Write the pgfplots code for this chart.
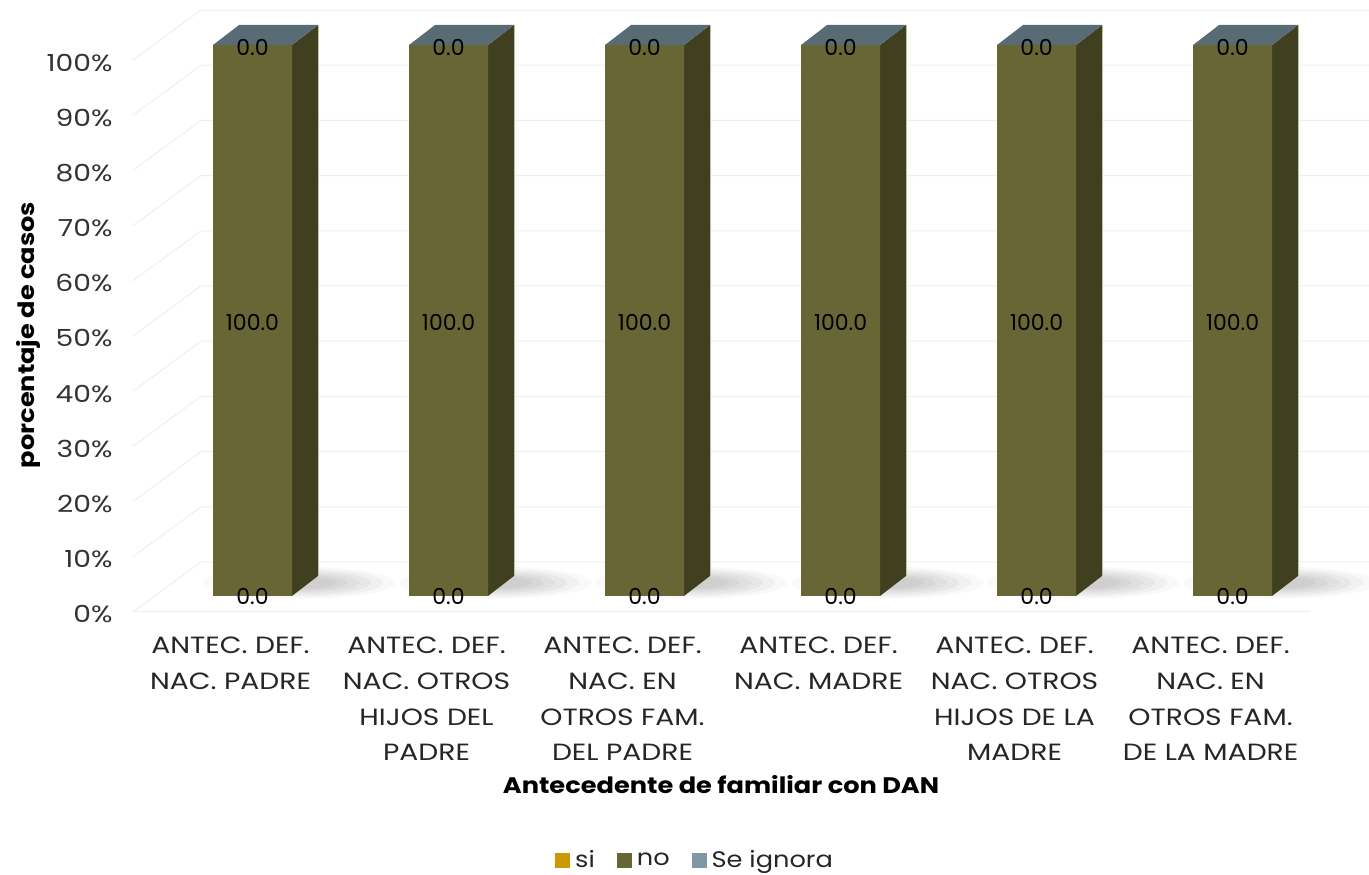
\documentclass[border=0pt]{standalone}
\usepackage{fontspec}
\setmainfont{Poppins}[FakeStretch=1.14]
\newfontfamily\wide{Poppins}[FakeStretch=1.2]
\newfontfamily\plain{Poppins}
\usepackage{pgfplots}
\usepackage{pgfplotstable}
\pgfplotsset{compat=1.18}

\definecolor{cSi}{RGB}{204,153,0}
\definecolor{cNo}{RGB}{104,102,52}
\definecolor{cNoSide}{RGB}{64,63,32}
\definecolor{cTop}{RGB}{88,108,118}
\definecolor{cIgn}{RGB}{128,152,165}
\definecolor{cGrid}{RGB}{238,238,238}
\definecolor{cEdge}{RGB}{190,190,160}

% valores en porcentaje
\pgfplotstableread{
x si no ign
0 0 100 0
1 0 100 0
2 0 100 0
3 0 100 0
4 0 100 0
5 0 100 0
}\datos

\pgfplotsset{base/.style={
    scale only axis,
    width=1177pt, height=578.5pt,
    xmin=-0.6097, xmax=5.395,
    ymin=-5, ymax=100,
    clip=false}}

\begin{document}
\begin{tikzpicture}
\useasboundingbox (-133pt,-251.5pt) rectangle (1236pt,623.5pt);
% fondo: paredes, piso, sombras, caras 3D
\begin{axis}[base, hide axis]
\pgfplotsinvokeforeach{0,...,10}{
  \draw[cGrid, line width=1pt] (axis cs:-0.6097,{-2.904+10.018*#1}) -- (axis cs:-0.2628,{6.17+10.018*#1}) -- (axis cs:5.696,{6.17+10.018*#1});
}
\draw[cGrid, line width=1pt] (axis cs:-0.6097,-2.904) -- (axis cs:5.395,-2.904);
\pgfplotsinvokeforeach{0,...,5}{
  \fill[black, opacity=0.025] (axis cs:#1+0.24,2.4) ellipse [x radius=96pt, y radius=16pt];
  \fill[black, opacity=0.03] (axis cs:#1+0.24,2.4) ellipse [x radius=84pt, y radius=14pt];
  \fill[black, opacity=0.035] (axis cs:#1+0.24,2.4) ellipse [x radius=72pt, y radius=12pt];
  \fill[black, opacity=0.035] (axis cs:#1+0.24,2.4) ellipse [x radius=60pt, y radius=10pt];
  \fill[black, opacity=0.04] (axis cs:#1+0.24,2.4) ellipse [x radius=48pt, y radius=8pt];
  \fill[black, opacity=0.04] (axis cs:#1+0.24,2.4) ellipse [x radius=36pt, y radius=6pt];
  \fill[cNoSide] (axis cs:#1+0.2015,0) -- (axis cs:#1+0.3342,3.63) -- (axis cs:#1+0.3342,103.63) -- (axis cs:#1+0.2015,100) -- cycle;
  \draw[cEdge, line width=0.6pt] (axis cs:#1+0.3342,3.63) -- (axis cs:#1+0.3342,103.63);
  \fill[cTop] (axis cs:#1-0.2015,100) -- (axis cs:#1+0.2015,100) -- (axis cs:#1+0.3342,103.63) -- (axis cs:#1-0.0688,103.63) -- cycle;
}
\end{axis}
% barras
\begin{axis}[base,
    axis line style={draw=none},
    major tick length=0pt,
    ybar stacked,
    bar width=0.403,
    /pgf/number format/assume math mode=true,
    xtick={0,...,5},
    xticklabels={
      {ANTEC. DEF.\\NAC. PADRE},
      {ANTEC. DEF.\\NAC. OTROS\\HIJOS DEL\\PADRE},
      {ANTEC. DEF.\\NAC. EN\\OTROS FAM.\\DEL PADRE},
      {ANTEC. DEF.\\NAC. MADRE},
      {ANTEC. DEF.\\NAC. OTROS\\HIJOS DE LA\\MADRE},
      {ANTEC. DEF.\\NAC. EN\\OTROS FAM.\\DE LA MADRE}},
    xticklabel style={align=center, font=\wide\fontsize{23.5}{35.7}\selectfont, text=black!85, xshift=-22pt, yshift=-10pt},
    ytick={0,10,...,100},
    yticklabel={\pgfmathprintnumber{\tick}\%},
    yticklabel style={font=\wide\fontsize{23.5}{28}\selectfont, text=black!80, yshift=-18pt, xshift=-17pt},
    xlabel={\textbf{Antecedente de familiar con DAN}},
    xlabel style={font=\fontsize{22.5}{27}\selectfont, at={(axis description cs:0.4996,-0.279)}, anchor=center},
    ylabel={\textbf{porcentaje de casos}},
    ylabel style={font=\fontsize{22.5}{27}\selectfont, at={(axis description cs:-0.0892,0.4987)}, anchor=center},
    legend columns=-1,
    legend style={draw=none, font=\fontsize{22.5}{27}\selectfont, text=black!85,
      at={(axis description cs:0.4775,-0.409)}, anchor=center,
      /tikz/every odd column/.append style={column sep=3pt},
      /tikz/every even column/.append style={column sep=20pt}},
    legend image code/.code={\fill[#1] (0pt,-7.5pt) rectangle (15pt,7.5pt);},
]
\addplot[fill=cSi, draw=none] table[x=x, y=si] {\datos};
\addlegendentry{si}
\addplot[fill=cNo, draw=none] table[x=x, y=no] {\datos};
\addlegendentry{no}
\addplot[fill=cIgn, draw=none] table[x=x, y=ign] {\datos};
\addlegendentry{Se ignora}
\pgfplotsinvokeforeach{0,...,5}{
  \draw[cEdge, line width=0.6pt] (axis cs:#1-0.2015,0) -- (axis cs:#1-0.2015,100);
}
\end{axis}
% etiquetas de datos
\begin{axis}[base, hide axis,
    /pgf/number format/assume math mode=true,
    nodes near coords={\pgfmathprintnumber[fixed,fixed zerofill,precision=1]{\pgfplotspointmeta}},
    every node near coord/.append style={font=\plain\fontsize{22}{26}\selectfont, text=black, anchor=center},
    point meta=explicit]
\addplot[draw=none, mark=none, every node near coord/.append style={yshift=-1pt}]
  table[x=x, y=si, meta=si] {\datos};
\addplot[draw=none, mark=none, every node near coord/.append style={yshift=-2.5pt}]
  table[x=x, y expr=\thisrow{si}+\thisrow{no}/2, meta=no] {\datos};
\addplot[draw=none, mark=none, every node near coord/.append style={yshift=-2.5pt}]
  table[x=x, y expr=\thisrow{si}+\thisrow{no}+\thisrow{ign}/2, meta=ign] {\datos};
\end{axis}
\end{tikzpicture}
\end{document}
